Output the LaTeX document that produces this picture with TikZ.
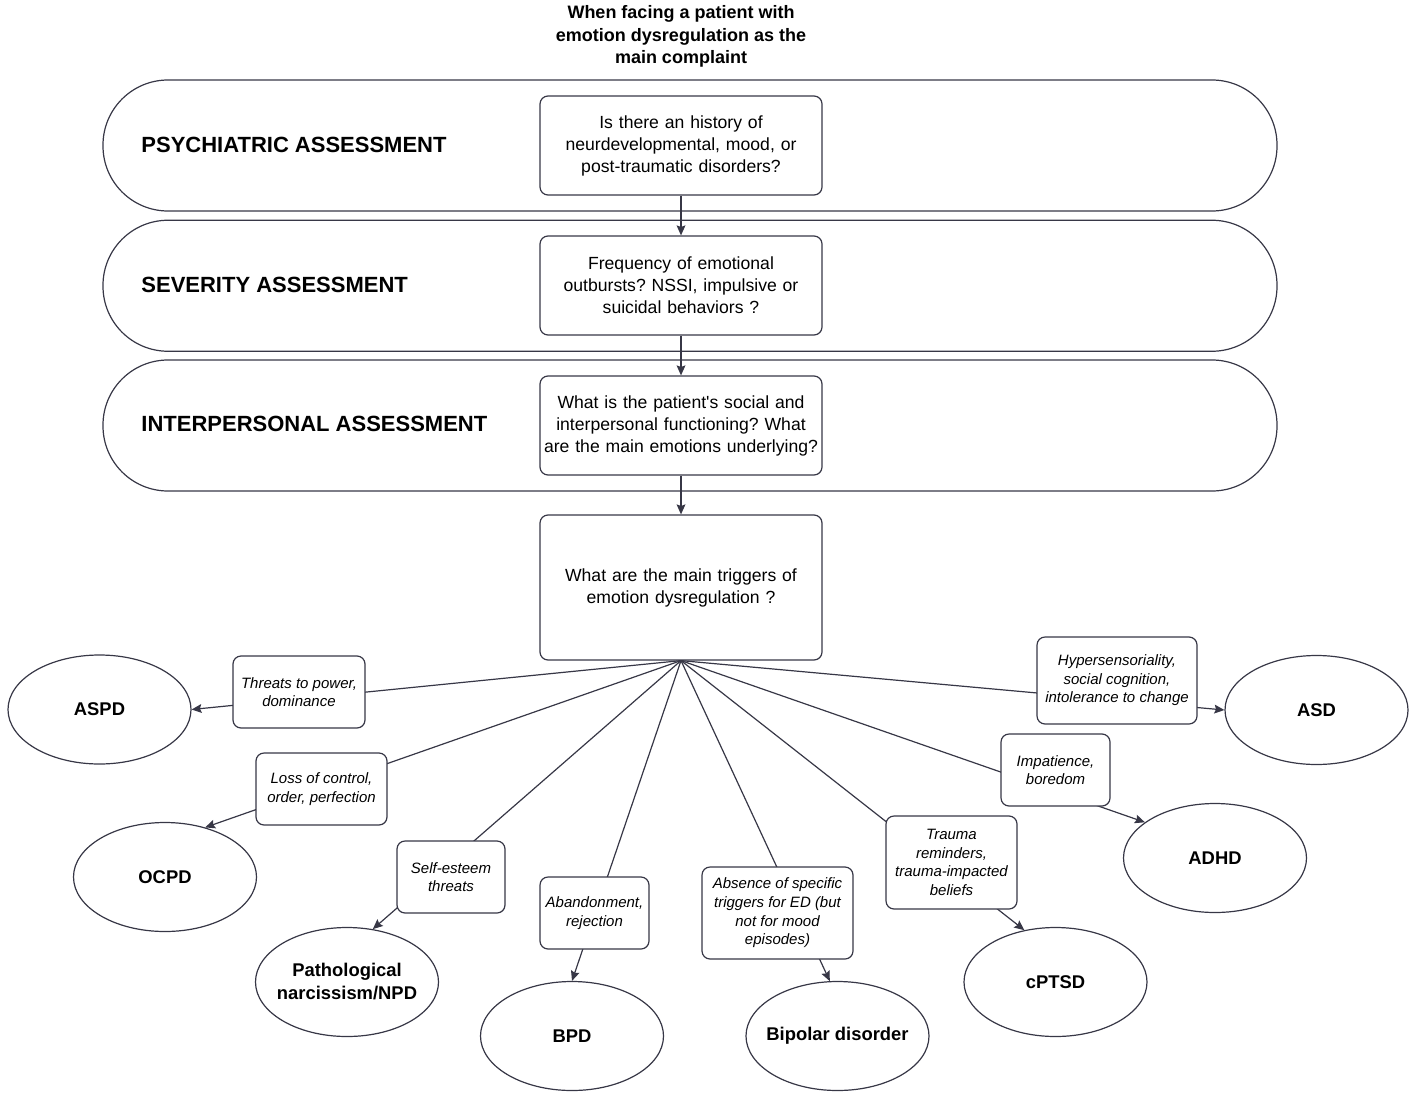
\documentclass[tikz,border=0pt]{standalone}
\usepackage{fontspec}
\setmainfont{Liberation Sans}
\usepackage{tikz}
\usetikzlibrary{arrows.meta,shapes.geometric}
\definecolor{linegray}{RGB}{55,55,70}
\frenchspacing

\begin{document}
\begin{tikzpicture}[x=0.5pt, y=-0.5pt, >={Stealth[length=5pt,width=4.4pt,inset=0.8pt]},
  band/.style={draw=linegray, line width=0.6pt, rounded corners=32.5pt, minimum width=587pt, minimum height=65.5pt},
  head/.style={anchor=west, inner sep=0pt, font=\fontsize{11}{13}\selectfont\bfseries},
  qbox/.style={draw=linegray, line width=0.6pt, rounded corners=4pt, text width=137pt, inner sep=2pt, minimum height=49.5pt, align=center, font=\fontsize{8.8}{11}\selectfont},
  lbl/.style={draw=linegray, line width=0.6pt, fill=white, rounded corners=4pt, inner sep=1pt, align=center, font=\fontsize{7.5}{9.3}\selectfont\itshape},
  ell/.style={draw=linegray, line width=0.6pt, ellipse, minimum width=91.5pt, minimum height=54.5pt, inner sep=-4pt, align=center, font=\fontsize{9.2}{11.5}\selectfont\bfseries},
  conn/.style={draw=linegray, line width=0.6pt, ->}]

\useasboundingbox (0,0) rectangle (1417,1097);

\node[font=\fontsize{9}{11.3}\selectfont\bfseries, align=center] (title) at (681,36.5)
  {When facing a patient with\\emotion dysregulation as the\\main complaint};

\node[band] (band1) at (690,145.5) {};
\node[band] (band2) at (690,285.75) {};
\node[band] (band3) at (690,425.5) {};

\node[head] (psy) at (141,145) {PSYCHIATRIC ASSESSMENT};
\node[head] (sev) at (141,285) {SEVERITY ASSESSMENT};
\node[head] (inter) at (141,424) {INTERPERSONAL ASSESSMENT};

\node[qbox] (q1) at (681,145.5) {Is there an history of\\neurdevelopmental, mood, or\\post-traumatic disorders?};
\node[qbox] (q2) at (681,285.5) {Frequency of emotional\\outbursts? NSSI, impulsive or\\suicidal behaviors ?};
\node[qbox] (q3) at (681,425.5) {What is the patient\textquotesingle s social and\\interpersonal functioning? What\\are the main emotions underlying?};
\node[qbox, minimum height=72.5pt] (q4) at (681,587.5) {What are the main triggers of\\emotion dysregulation ?};

\node[ell] (aspd) at (99.5,709.5) {ASPD};
\node[ell] (ocpd) at (165,877) {OCPD};
\node[ell] (npd) at (347,982) {Pathological\\narcissism/NPD};
\node[ell] (bpd) at (572,1036) {BPD};
\node[ell] (bip) at (837.5,1036) {Bipolar disorder};
\node[ell] (cptsd) at (1055.5,982) {cPTSD};
\node[ell] (adhd) at (1215,858) {ADHD};
\node[ell] (asd) at (1316.5,710) {ASD};

\draw[conn] (q1.south) -- (q2.north);
\draw[conn] (q2.south) -- (q3.north);
\draw[conn] (q3.south) -- (q4.north);

\foreach \e in {aspd.east,ocpd.51,npd.64,bpd.north,bip.98,cptsd.121,adhd.153,asd.west}
  \draw[conn] (q4.south) -- (\e);

\node[lbl, minimum width=66pt, minimum height=36pt] (power) at (299,692) {Threats to power,\\dominance};
\node[lbl, minimum width=65.5pt, minimum height=36pt] (control) at (321.5,789) {Loss of control,\\order, perfection};
\node[lbl, minimum width=54pt, minimum height=36pt] (esteem) at (451,877) {Self-esteem\\threats};
\node[lbl, minimum width=54.5pt, minimum height=36pt] (abandon) at (594.5,913) {Abandonment,\\rejection};
\node[lbl, minimum width=75.5pt, minimum height=46pt] (absence) at (777.5,913) {Absence of specific\\triggers for ED (but\\not for mood\\episodes)};
\node[lbl, minimum width=65.5pt, minimum height=46.5pt] (trauma) at (951.5,862.5) {Trauma\\reminders,\\trauma-impacted\\beliefs};
\node[lbl, minimum width=54.5pt, minimum height=36pt] (impat) at (1055.5,770) {Impatience,\\boredom};
\node[lbl, minimum width=80pt, minimum height=43.5pt] (hyper) at (1117,680.5) {Hypersensoriality,\\social cognition,\\intolerance to change};
\end{tikzpicture}
\end{document}
